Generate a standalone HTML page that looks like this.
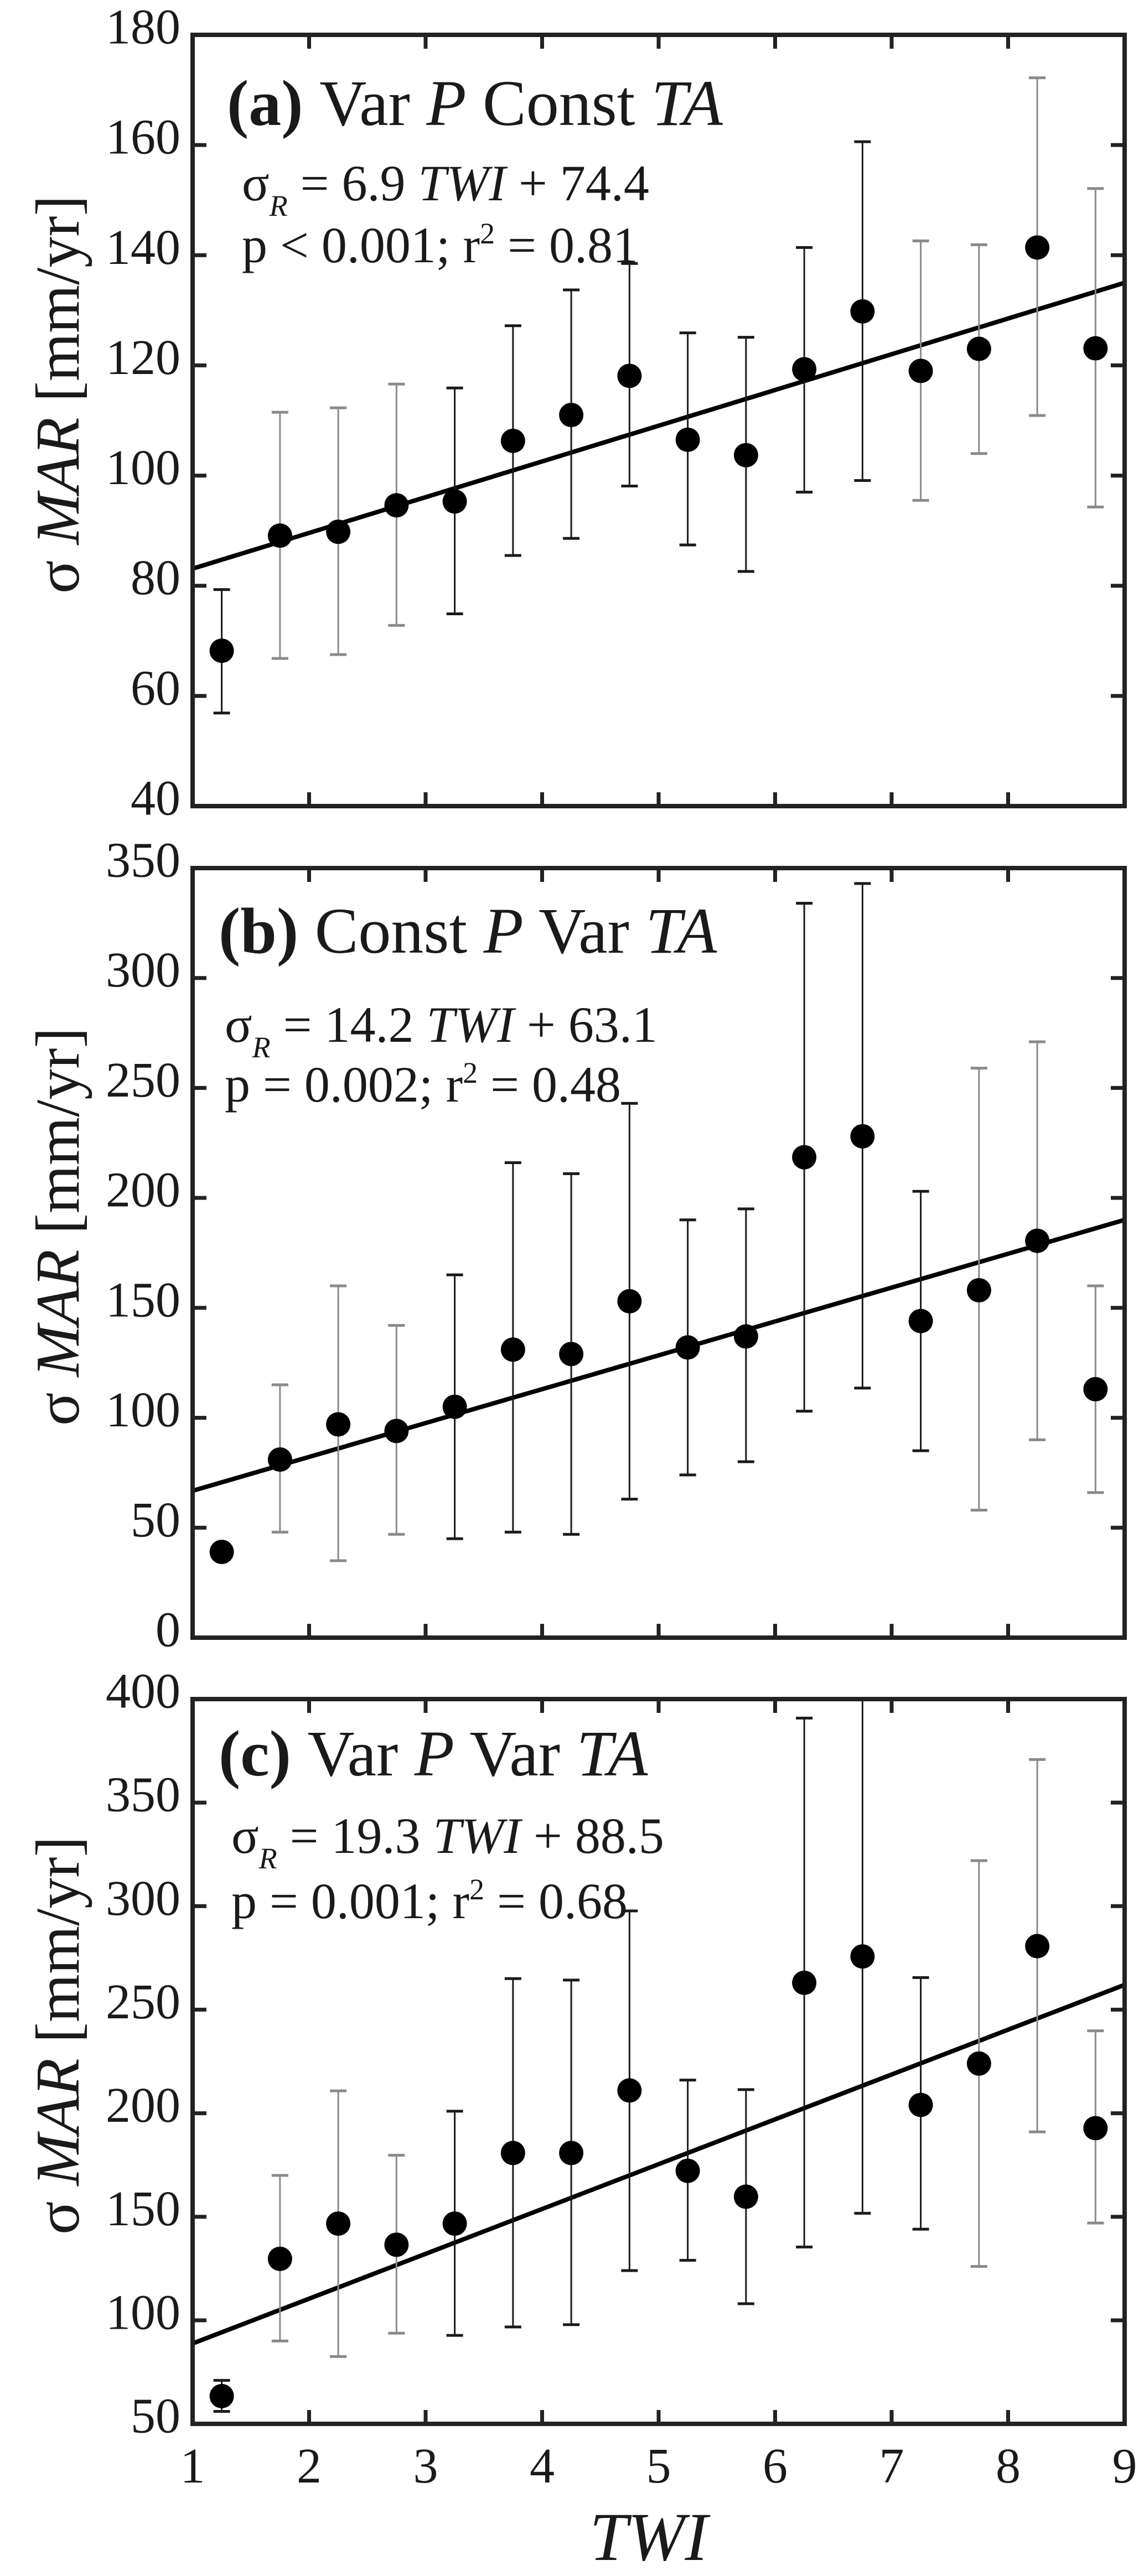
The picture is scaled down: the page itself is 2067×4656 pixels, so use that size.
<!DOCTYPE html>
<html><head><meta charset="utf-8">
<style>
html,body{margin:0;padding:0;background:#fff;}
svg{display:block;}
text{font-family:"Liberation Serif","Times New Roman",serif;fill:#1a1a1a;}
</style></head>
<body>
<svg id="chart" xmlns="http://www.w3.org/2000/svg" width="2067" height="4656" viewBox="0 0 2067 4656"></svg>
<script>
// ---- data ----
const twiCategories = [1.25,1.75,2.25,2.75,3.25,3.75,4.25,4.75,5.25,5.75,6.25,6.75,7.25,7.75,8.25,8.75];
const xTickLabels = [1,2,3,4,5,6,7,8,9];

const aMeans = [68.2,89.1,89.8,94.6,95.3,106.3,111.0,118.1,106.5,103.7,119.3,129.8,119.0,123.0,141.4,123.1];
const aUpper = [79.3,111.5,112.3,116.6,115.9,127.2,133.7,138.5,125.9,125.1,141.4,160.6,142.6,141.9,172.2,152.1];
const aLower = [56.9,66.8,67.5,72.8,74.9,85.5,88.6,98.1,87.4,82.6,97.0,99.1,95.5,104.0,110.9,94.3];
const aFit = [83.1,135.0];
const aTicks = [40,60,80,100,120,140,160,180];

const bMeans = [39,81,97,94,105,131,129,153,132,137,218.5,228,144,158,180.5,113];
const bUpper = [39,115,160,142,165,216,211,243,190,195,334,343,203,259,271,160];
const bLower = [39,48,35,47,45,48,47,63,74,80,103,113.5,85,58,90,66];
const bFit = [66.8,190];
const bTicks = [0,50,100,150,200,250,300,350];

const cMeans = [63.4,129.7,146.7,136.5,146.7,180.8,180.8,211,172.2,159.7,263,275.7,204,224,280.7,192.8];
const cUpper = [71,170,210.8,179.7,201,265,264.3,297.7,216,211.4,390.8,410,265.5,322,370.8,239.8];
const cLower = [56,90,82.5,93.8,92.7,96.8,97.9,124,129,108,135.4,151.7,144,126,191,147];
const cFit = [88.8,262];
const cTicks = [50,100,150,200,250,300,350,400];

const aBarGrey = [0,1,1,1,0,0,0,0,0,0,0,0,1,1,1,1];
const bBarGrey = [0,1,1,1,0,0,0,0,0,0,0,0,0,1,1,1];
const cBarGrey = [0,1,1,1,0,0,0,0,0,0,0,0,0,1,1,1];

// ---- layout ----
const NS = "http://www.w3.org/2000/svg";
const svg = document.getElementById("chart");
const X0 = 348, X1 = 2032;
function xScale(v){ return X0 + (v - 1) * (X1 - X0) / 8; }

function el(tag, attrs, parent){
  const e = document.createElementNS(NS, tag);
  for (const k in attrs) e.setAttribute(k, attrs[k]);
  (parent || svg).appendChild(e);
  return e;
}

const panels = [
  {id:"a", top:63, bottom:1457, ticks:aTicks, means:aMeans, up:aUpper, lo:aLower, fit:aFit, grey:aBarGrey,
   label:"(a)", t1:"Var ", t2:"P", t3:" Const ", t4:"TA", titleY:226, titleX:410,
   eq:"6.9", eqb:"74.4", p:"p < 0.001; r", r2:" = 0.81", eqX:437, eqY1:362, eqY2:474, ylab:713},
  {id:"b", top:1569, bottom:2960, ticks:bTicks, means:bMeans, up:bUpper, lo:bLower, fit:bFit, grey:bBarGrey,
   label:"(b)", t1:"Const ", t2:"P", t3:" Var ", t4:"TA", titleY:1722, titleX:395,
   eq:"14.2", eqb:"63.1", p:"p = 0.002; r", r2:" = 0.48", eqX:406, eqY1:1883, eqY2:1991, ylab:2217},
  {id:"c", top:3071, bottom:4381, ticks:cTicks, means:cMeans, up:cUpper, lo:cLower, fit:cFit, grey:cBarGrey,
   label:"(c)", t1:"Var ", t2:"P", t3:" Var ", t4:"TA", titleY:3209, titleX:395,
   eq:"19.3", eqb:"88.5", p:"p = 0.001; r", r2:" = 0.68", eqX:418, eqY1:3349, eqY2:3467, ylab:3679}
];

panels.forEach(P => {
  const g = el("g", {});
  
  
  const ymin = P.ticks[0], ymax = P.ticks[P.ticks.length-1];
  const yScale = v => P.bottom - (v - ymin) * (P.bottom - P.top) / (ymax - ymin);

  const cp = el("clipPath", {id:"clip-"+P.id}, g);
  el("rect", {x:X0, y:P.top, width:X1-X0, height:P.bottom-P.top}, cp);

  const fl = el("line", {x1:xScale(1), y1:yScale(P.fit[0]), x2:xScale(9), y2:yScale(P.fit[1]),
    stroke:"#000", "stroke-width":8, "clip-path":"url(#clip-"+P.id+")"}, g);
  
  

  twiCategories.forEach((c, i) => {
    const x = xScale(c);
    const col = P.grey[i] ? "#8a8a8a" : "#1a1a1a";
    const eg = el("g", {stroke:col, "stroke-width":3, "clip-path":"url(#clip-"+P.id+")"}, g);
    
    
    if (P.up[i] !== P.lo[i]) {
      el("line", {x1:x, y1:yScale(P.up[i]), x2:x, y2:yScale(P.lo[i])}, eg);
      el("line", {x1:x-15, y1:yScale(P.up[i]), x2:x+15, y2:yScale(P.up[i]), "stroke-width":5}, eg);
      el("line", {x1:x-15, y1:yScale(P.lo[i]), x2:x+15, y2:yScale(P.lo[i]), "stroke-width":5}, eg);
    }
    const pt = el("ellipse", {cx:x, cy:yScale(P.means[i]), rx:22, ry:22, fill:"#000"}, g);
    
    
  });

  const fr = el("rect", {x:X0, y:P.top, width:X1-X0, height:P.bottom-P.top, fill:"none", stroke:"#222", "stroke-width":8}, g);
  
  

  xTickLabels.forEach(v => {
    if (v === 1 || v === 9) return;
    const x = xScale(v);
    el("line", {x1:x, y1:P.bottom, x2:x, y2:P.bottom-25, stroke:"#222", "stroke-width":7}, g);
    el("line", {x1:x, y1:P.top, x2:x, y2:P.top+25, stroke:"#222", "stroke-width":7}, g);
  });
  P.ticks.forEach(v => {
    const y = yScale(v);
    if (v !== ymin && v !== ymax) {
      el("line", {x1:X0, y1:y, x2:X0+25, y2:y, stroke:"#222", "stroke-width":7}, g);
      el("line", {x1:X1, y1:y, x2:X1-25, y2:y, stroke:"#222", "stroke-width":7}, g);
    }
    const t = el("text", {x:326, y:y-14, "text-anchor":"end", "dominant-baseline":"central", "font-size":90}, g);
    t.textContent = v;
    
    
  });

  const tt = el("text", {x:P.titleX, y:P.titleY, "font-size":118}, g);
  
  
  const s1 = el("tspan", {"font-weight":"bold"}, tt); s1.textContent = P.label + " ";
  const s2 = el("tspan", {}, tt); s2.textContent = P.t1;
  const s3 = el("tspan", {"font-style":"italic"}, tt); s3.textContent = P.t2;
  const s4 = el("tspan", {}, tt); s4.textContent = P.t3;
  const s5 = el("tspan", {"font-style":"italic"}, tt); s5.textContent = P.t4;

  const e1 = el("text", {x:P.eqX, y:P.eqY1, "font-size":92}, g);
  
  
  let a = el("tspan", {}, e1); a.textContent = "σ";
  a = el("tspan", {"font-style":"italic", "font-size":54, dy:28}, e1); a.textContent = "R";
  a = el("tspan", {dy:-28}, e1); a.textContent = " = " + P.eq + " ";
  a = el("tspan", {"font-style":"italic"}, e1); a.textContent = "TWI";
  a = el("tspan", {}, e1); a.textContent = " + " + P.eqb;

  const e2 = el("text", {x:P.eqX, y:P.eqY2, "font-size":92}, g);
  
  
  a = el("tspan", {}, e2); a.textContent = P.p;
  a = el("tspan", {"font-size":54, dy:-34}, e2); a.textContent = "2";
  a = el("tspan", {dy:34}, e2); a.textContent = P.r2;

  const yl = el("text", {x:0, y:0, "font-size":112, "text-anchor":"middle",
    transform:"translate(142," + P.ylab + ") rotate(-90)"}, g);
  
  
  a = el("tspan", {}, yl); a.textContent = "σ ";
  a = el("tspan", {"font-style":"italic"}, yl); a.textContent = "MAR";
  a = el("tspan", {}, yl); a.textContent = " [mm/yr]";
});

xTickLabels.forEach(v => {
  const t = el("text", {x:xScale(v), y:4487, "text-anchor":"middle", "font-size":90});
  t.textContent = v;
  
  
});
const xt = el("text", {x:1172, y:4627, "text-anchor":"middle", "font-size":124, "font-style":"italic"});
xt.textContent = "TWI";


</script>
</body></html>
